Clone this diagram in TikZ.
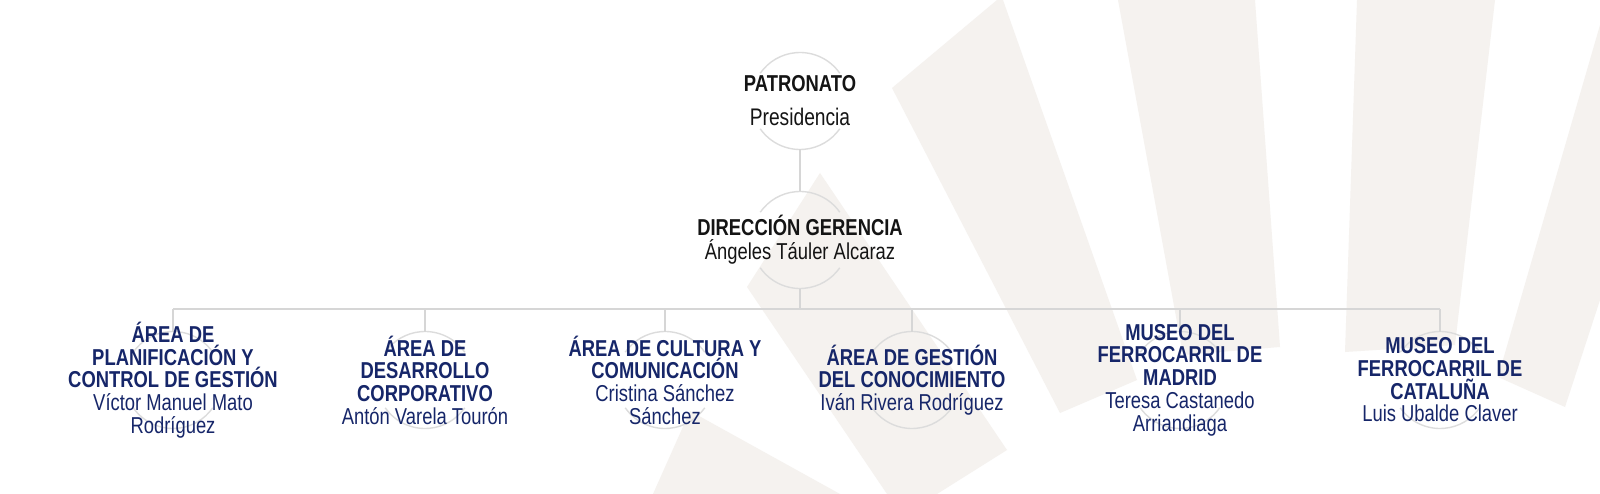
\documentclass[tikz,border=0pt]{standalone}
\usepackage{fontspec}
\setmainfont{Liberation Sans}[FakeStretch=0.8]
\definecolor{beige}{RGB}{245,242,239}
\definecolor{navy}{RGB}{22,38,105}
\definecolor{linegray}{RGB}{214,214,214}
\definecolor{ringgray}{RGB}{220,220,220}
\tikzset{
  ring/.style={circle,minimum size=97pt,inner sep=0pt,outer sep=0pt},
  head/.style={align=center,text=black!92,font=\fontsize{23}{24}\selectfont},
  area/.style={align=center,text=navy,font=\fontsize{23}{22.7}\selectfont},
  link/.style={draw=linegray,line width=1.6pt},
  arcs/.style={draw=ringgray,line width=1.4pt}
}
\begin{document}
\begin{tikzpicture}[x=1pt,y=1pt]
\useasboundingbox (0,0) rectangle (1600,-494);
\fill[white] (0,0) rectangle (1600,-494);
% Background rays
\begin{scope}
\clip (0,0) rectangle (1600,-494);
\fill[beige] (747,-287) -- (820,-173) -- (1007,-450) -- (937,-494) -- (887,-494) -- cycle;
\fill[beige] (690,-411) -- (840,-494) -- (653,-494) -- cycle;
\fill[beige] (892,-88) -- (997,0) -- (1003,0) -- (1137,-380) -- (1060,-413) -- cycle;
\fill[beige] (1118,0) -- (1255,0) -- (1280,-347) -- (1183,-355) -- cycle;
\fill[beige] (1357,0) -- (1495,0) -- (1455,-345) -- (1345,-352) -- cycle;
\fill[beige] (1600,-25) -- (1498,-377) -- (1565,-407) -- (1600,-300) -- cycle;
\end{scope}
% Rings
\node[ring] (patc) at (800,-101) {};
\node[ring] (dirc) at (800,-240) {};
\node[ring] (a1c) at (173,-380) {};
\node[ring] (a2c) at (425,-380) {};
\node[ring] (a3c) at (665,-380) {};
\node[ring] (a4c) at (912,-380) {};
\node[ring] (a5c) at (1180,-380) {};
\node[ring] (a6c) at (1440,-380) {};
\foreach \n in {patc,dirc,a1c,a2c,a3c,a4c,a5c,a6c} {
  \draw[arcs] (\n.35) arc[start angle=35,end angle=145,radius=48.5];
  \draw[arcs] (\n.215) arc[start angle=215,end angle=325,radius=48.5];
}
% Connectors
\coordinate (bus) at (800,-309);
\draw[link] (patc) -- (dirc);
\draw[link] (dirc) -- (bus);
\draw[link] (a1c.north |- bus) -- (a6c.north |- bus);
\foreach \n in {a1c,a2c,a3c,a4c,a5c,a6c}
  \draw[link] (\n) -- (\n.north |- bus);
% Top
\node[head] (pat) at (patc) {\textbf{PATRONATO}\\[10pt]{\fontsize{24}{24}\selectfont Presidencia}};
\node[head] (dir) at (dirc) {\textbf{DIRECCIÓN GERENCIA}\\Ángeles Táuler Alcaraz};
% Areas
\node[area] (a1) at (a1c) {\textbf{ÁREA DE}\\\textbf{PLANIFICACIÓN Y}\\\textbf{CONTROL DE GESTIÓN}\\Víctor Manuel Mato\\Rodríguez};
\node[area] (a2) at (a2c) {\textbf{ÁREA DE}\\\textbf{DESARROLLO}\\\textbf{CORPORATIVO}\\Antón Varela Tourón};
\node[area] (a3) at (a3c) {\textbf{ÁREA DE CULTURA Y}\\\textbf{COMUNICACIÓN}\\Cristina Sánchez\\Sánchez};
\node[area] (a4) at (a4c) {\textbf{ÁREA DE GESTIÓN}\\\textbf{DEL CONOCIMIENTO}\\Iván Rivera Rodríguez};
\node[area] (a5) at (a5c) {\textbf{MUSEO DEL}\\\textbf{FERROCARRIL DE}\\\textbf{MADRID}\\Teresa Castanedo\\Arriandiaga};
\node[area] (a6) at (a6c) {\textbf{MUSEO DEL}\\\textbf{FERROCARRIL DE}\\\textbf{CATALUÑA}\\Luis Ubalde Claver};
\end{tikzpicture}
\end{document}
